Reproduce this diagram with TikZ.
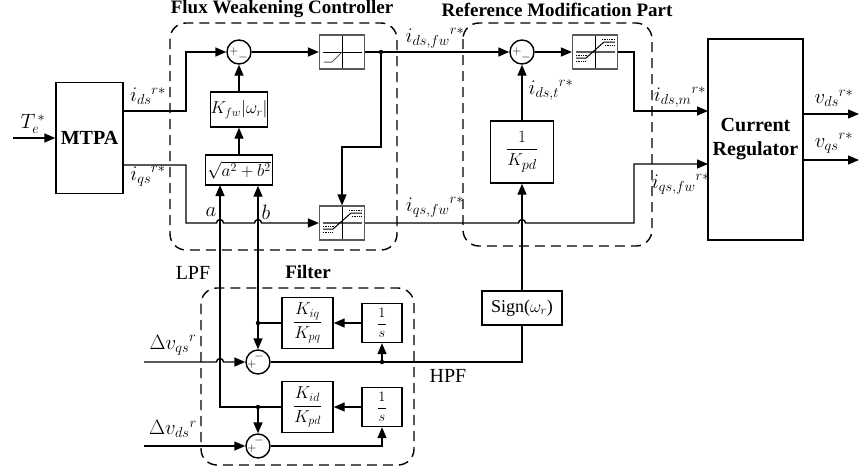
\documentclass[tikz,border=0pt]{standalone}
\usepackage{amsmath}
\usepackage{fontspec}
\setmainfont{Liberation Serif}
\usetikzlibrary{arrows.meta, positioning, calc}
\definecolor{satgrey}{HTML}{5A5A5A}
\tikzset{
  every picture/.style={line width=1.4pt},
  box/.style={draw, rectangle, inner sep=0pt, align=center},
  sumc/.style={draw, circle, minimum size=24pt, inner sep=0pt},
  sgn/.style={inner sep=0pt, font=\fontsize{13}{13}\selectfont},
  satbox/.style={draw=satgrey, line width=1.2pt, minimum width=45pt, minimum height=34pt, inner sep=0pt},
  arrow/.style={-{Triangle[length=11pt, width=9pt]}},
  group/.style={draw, dash pattern=on 10pt off 6pt, rounded corners=16pt},
  title/.style={inner sep=0pt, font=\bfseries\fontsize{19}{22}\selectfont},
  lbl/.style={inner sep=0pt, font=\fontsize{20}{24}\selectfont},
}

\begin{document}
\begin{tikzpicture}[x=1pt, y=-1pt, every node/.append style={font=\fontsize{19}{23}\selectfont}]
  \useasboundingbox (0,0) rectangle (859,471);

  % dashed groups and their titles
  \draw[group] (170,23) rectangle (397,250);
  \node[title] (fwct) at (282,9.5) {Flux Weakening Controller};
  \draw[group] (463,23) rectangle (652,246);
  \node[title] (rmpt) at (557,9.5) {Reference Modification Part};
  \draw[group] (201,288) rectangle (414,465);
  \node[title] (filt) at (308,272) {Filter};
  \node[lbl] (lpf) at (193,273) {LPF};
  \node[lbl] (hpf) at (448,376) {HPF};

  % blocks
  \node[box, minimum width=67pt, minimum height=111pt, font=\bfseries\fontsize{20}{24}\selectfont] (mtpa) at (89.5,138) {MTPA};
  \node[box, minimum width=95pt, minimum height=201pt, font=\bfseries\fontsize{20}{24}\selectfont] (cr) at (755.5,139.5) {Current\\Regulator};
  \node[sumc] (sum1) at (239,52) {};
  \node[sgn] (sum1p) at ($(sum1)+(-5,-1)$) {$+$};
  \node[sgn] (sum1m) at ($(sum1)+(4,5)$) {$-$};
  \node[satbox] (sat1) at (342,52) {};
  \node[satbox] (sat2) at (342,223) {};
  \node[box, minimum width=56pt, minimum height=35pt, font=\fontsize{18}{22}\selectfont] (kfw) at (239,109.5) {$K_{fw}|\omega_r|$};
  \node[box, minimum width=67pt, minimum height=30pt, font=\fontsize{18}{22}\selectfont] (sqrt) at (239,170) {$\sqrt{a^2+b^2}$};
  \node[sumc] (sum2) at (522,52) {};
  \node[sgn] (sum2p) at ($(sum2)+(-5,-1)$) {$+$};
  \node[sgn] (sum2m) at ($(sum2)+(4,5)$) {$-$};
  \node[satbox] (satm) at (595,52) {};
  \node[box, minimum width=63pt, minimum height=62pt] (kpd) at (522,152) {$\dfrac{1}{K_{pd}}$};
  \node[box, minimum width=80pt, minimum height=34pt, font=\fontsize{18}{22}\selectfont] (sign) at (522,308) {Sign($\omega_r$)};
  \node[sumc] (sumq) at (258,362) {};
  \node[sgn] (sumqm) at ($(sumq)+(1,-6)$) {$-$};
  \node[sgn] (sumqp) at ($(sumq)+(-6,2)$) {$+$};
  \node[sumc] (sumd) at (258,446) {};
  \node[sgn] (sumdm) at ($(sumd)+(1,-6)$) {$-$};
  \node[sgn] (sumdp) at ($(sumd)+(-6,2)$) {$+$};
  \node[box, minimum width=51pt, minimum height=51pt, font=\fontsize{17}{20}\selectfont] (kiq) at (307.5,323) {$\dfrac{K_{iq}}{K_{pq}}$};
  \node[box, minimum width=51pt, minimum height=51pt, font=\fontsize{17}{20}\selectfont] (kid) at (307.5,407) {$\dfrac{K_{id}}{K_{pd}}$};
  \node[box, minimum width=40pt, minimum height=39pt, font=\fontsize{14}{16}\selectfont] (intq) at (382,323) {$\dfrac{1}{s}$};
  \node[box, minimum width=40pt, minimum height=39pt, font=\fontsize{14}{16}\selectfont] (intd) at (382,407) {$\dfrac{1}{s}$};

  % saturation curves
  \begin{scope}[shift={(sat1.center)}]
    \draw[line width=0.9pt] (0,-16) -- (0,16);
    \draw[line width=1pt] (-19,0) -- (20,0);
    \draw[satgrey, line width=1pt] (-18,10) -- (-10,10) -- (0,0);
  \end{scope}
  \foreach \s in {sat2, satm} {
    \begin{scope}[shift={(\s.center)}]
      \draw[satgrey, line width=1.6pt] (-19,0) -- (20,0);
      \draw[line width=0.9pt] (0,-16) -- (0,16);
      \draw[line width=1pt] (-19,6) -- (-9,6) -- (9,-10) -- (20,-10);
      \draw[densely dotted, line width=0.7pt] (-19,3) -- (-7,3) (-19,9) -- (-10,9) (7,-13) -- (20,-13) (10,-7) -- (20,-7);
    \end{scope}
  }

  % coordinates for free ends and bends
  \coordinate (tin) at (13,138);
  \coordinate (mtpad) at (123,111);
  \coordinate (mtpaq) at (123,165);
  \coordinate (dfw) at (381,52);
  \coordinate (crd) at (708,111);
  \coordinate (crq) at (708,164);
  \coordinate (vdout) at (859,114);
  \coordinate (vqout) at (859,160);
  \coordinate (vq) at (144,362);
  \coordinate (vd) at (144,446);
  \coordinate (bq) at (258,323);
  \coordinate (bd) at (258,407);
  \coordinate (dq) at (382,362);
  \coordinate (ain) at (220,185);

  % flux weakening paths
  \draw[arrow] (tin) -- (mtpa);
  \draw[arrow] (mtpad) -- (186,111) |- (sum1);
  \draw[arrow] (mtpaq) -- (186,165) -- (186,223) -- (216.5,223) arc[start angle=180, end angle=360, radius=3.5]
    -- (254.5,223) arc[start angle=180, end angle=360, radius=3.5] -- (sat2);
  \draw[arrow] (sum1) -- (sat1);
  \draw[arrow] (sqrt) -- (kfw);
  \draw[arrow] (kfw) -- (sum1);
  \draw[arrow] (sat1) -- (sum2);
  \fill (dfw) circle (2.2pt);
  \draw[arrow] (dfw) -- (381,147) -| (sat2);

  % reference modification paths
  \draw[arrow] (sum2) -- (satm);
  \draw[arrow] (satm) -- (634,52) |- (crd);
  \draw[arrow] (sat2) -- (518.5,223) arc[start angle=180, end angle=360, radius=3.5] -- (634,223) |- (crq);
  \draw[arrow] (kpd) -- (sum2);
  \draw[arrow] (sign) -- (kpd);
  \draw[arrow] (cr.east |- vdout) -- (vdout);
  \draw[arrow] (cr.east |- vqout) -- (vqout);

  % filter paths
  \draw[arrow] (vq) -- (216.5,362) arc[start angle=180, end angle=360, radius=3.5] -- (sumq);
  \draw[arrow] (vd) -- (sumd);
  \draw (sumq) -| (sign);
  \fill (dq) circle (2.2pt);
  \draw[arrow] (dq) -- (intq);
  \draw[arrow] (sumd) -| (intd);
  \draw[arrow] (intq) -- (kiq);
  \draw[arrow] (intd) -- (kid);
  \draw (kiq) -- (bq);
  \fill (bq) circle (2.2pt);
  \draw[arrow] (bq) -- (sumq);
  \draw[arrow] (bq) -- (bq |- sqrt.south);
  \draw[arrow] (kid) -| (ain);
  \fill (bd) circle (2.2pt);
  \draw[arrow] (bd) -- (sumd);

  % signal labels
  \node[lbl] (te) at (33,124) {$T_e^{\,*}$};
  \node[lbl] (idsl) at (148,96) {$i_{ds}{}^{r*}$};
  \node[lbl] (iqsl) at (148,176) {$i_{qs}{}^{r*}$};
  \node[lbl] (idfw) at (435,38) {$i_{ds,fw}{}^{r*}$};
  \node[lbl] (iqfw) at (435,207) {$i_{qs,fw}{}^{r*}$};
  \node[lbl] (al) at (211,212) {$a$};
  \node[lbl] (bl) at (266,212) {$b$};
  \node[lbl] (idt) at (551,90) {$i_{ds,t}{}^{r*}$};
  \node[lbl] (idm) at (680,97) {$i_{ds,m}{}^{r*}$};
  \node[lbl] (iqfw2) at (681,184) {$i_{qs,fw}{}^{r*}$};
  \node[lbl] (vdsl) at (834,98) {$v_{ds}{}^{r*}$};
  \node[lbl] (vqsl) at (834,143) {$v_{qs}{}^{r*}$};
  \node[lbl] (dvq) at (173,345) {$\Delta v_{qs}{}^{r}$};
  \node[lbl] (dvd) at (173,429) {$\Delta v_{ds}{}^{r}$};
\end{tikzpicture}
\end{document}
